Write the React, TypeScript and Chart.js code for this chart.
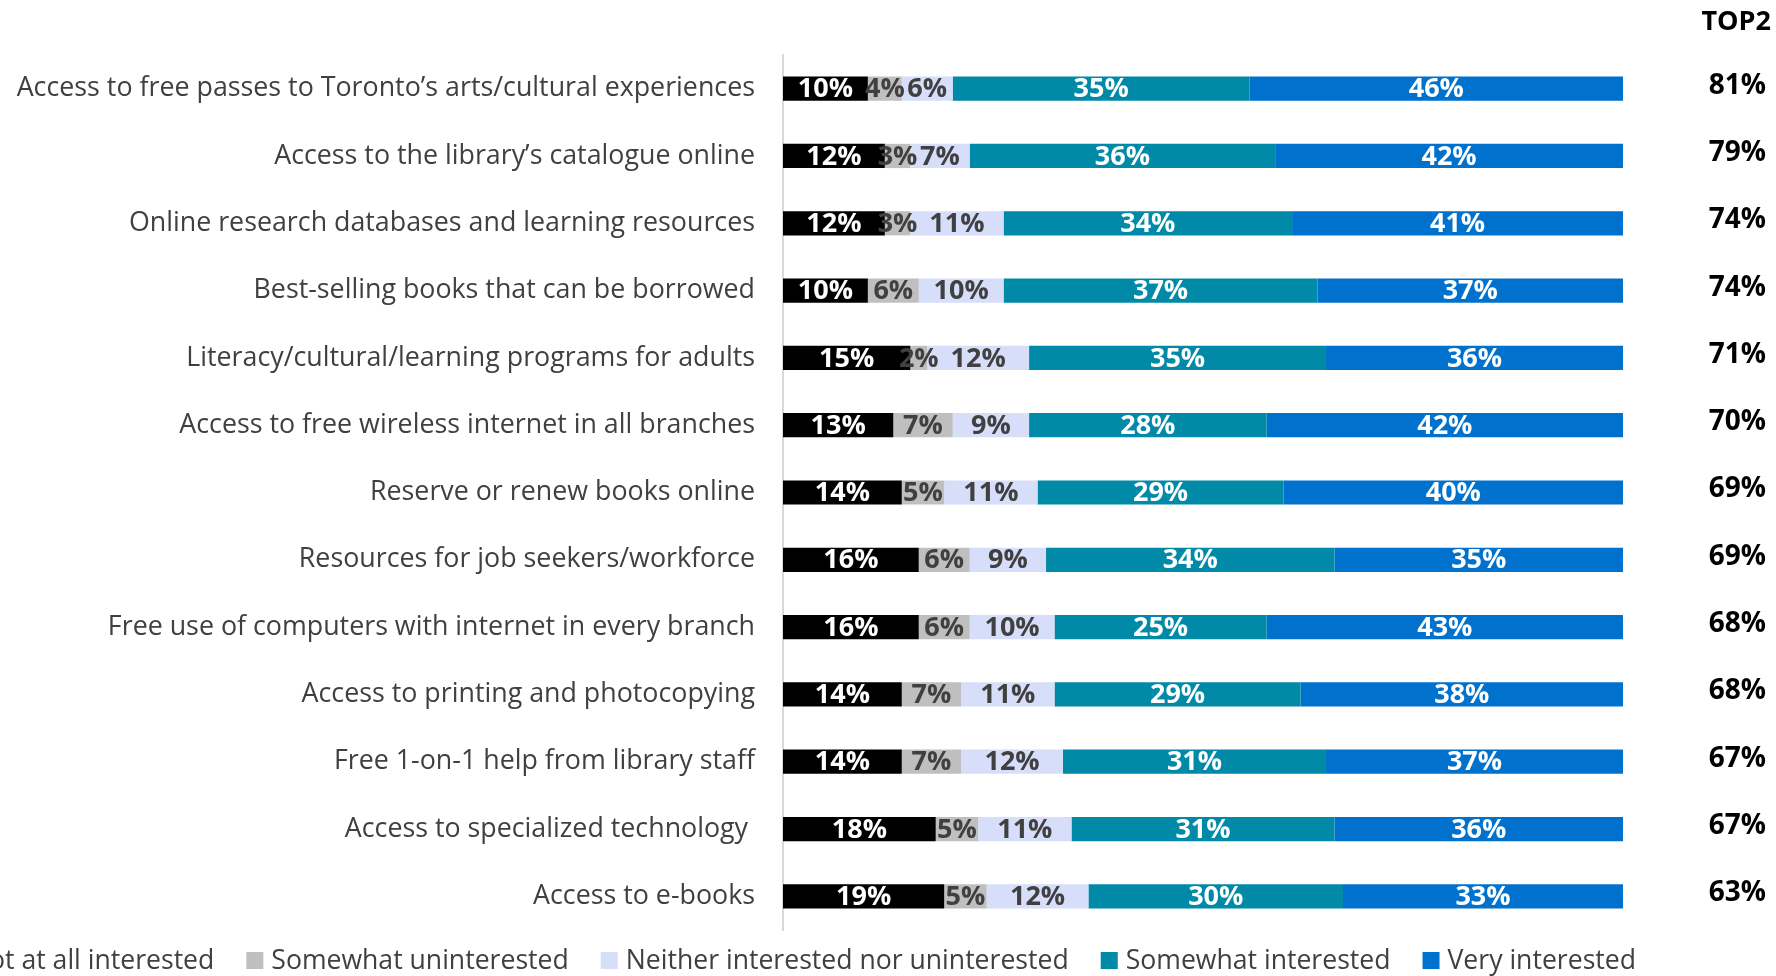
import React, { useEffect, useRef } from "react";
import { Chart, registerables } from "chart.js";

Chart.register(...registerables);

const categories = [
  "Access to free passes to Toronto’s arts/cultural experiences",
  "Access to the library’s catalogue online",
  "Online research databases and learning resources",
  "Best-selling books that can be borrowed",
  "Literacy/cultural/learning programs for adults",
  "Access to free wireless internet in all branches",
  "Reserve or renew books online",
  "Resources for job seekers/workforce",
  "Free use of computers with internet in every branch",
  "Access to printing and photocopying",
  "Free 1-on-1 help from library staff",
  "Access to specialized technology ",
  "Access to e-books",
];

const notAtAll = [10, 12, 12, 10, 15, 13, 14, 16, 16, 14, 14, 18, 19];
const somewhatUninterested = [4, 3, 3, 6, 2, 7, 5, 6, 6, 7, 7, 5, 5];
const neither = [6, 7, 11, 10, 12, 9, 11, 9, 10, 11, 12, 11, 12];
const somewhatInterested = [35, 36, 34, 37, 35, 28, 29, 34, 25, 29, 31, 31, 30];
const veryInterested = [46, 42, 41, 37, 36, 42, 40, 35, 43, 38, 37, 36, 33];
const top2 = [81, 79, 74, 74, 71, 70, 69, 69, 68, 68, 67, 67, 63];
const top2Header = "TOP2";

const seriesNames = [
  "Not at all interested",
  "Somewhat uninterested",
  "Neither interested nor uninterested",
  "Somewhat interested",
  "Very interested",
];
const seriesColors = ["#000000", "#BFBFBF", "#D6DEFA", "#008AA8", "#0072CE"];
const labelColors = ["#FFFFFF", "#404040", "#404040", "#FFFFFF", "#FFFFFF"];

const FONT = '"Open Sans", "DejaVu Sans", sans-serif';

const barLabelsPlugin = {
  id: "barLabels",
  afterDatasetsDraw(chart: any) {
    const ctx = chart.ctx;
    const right = chart.chartArea.right;
    ctx.save();
    ctx.font = `bold 27px ${FONT}`;
    ctx.textAlign = "center";
    ctx.textBaseline = "middle";
    chart.data.datasets.forEach((ds: any, di: number) => {
      const meta = chart.getDatasetMeta(di);
      meta.data.forEach((el: any, i: number) => {
        const v = ds.data[i];
        const cx = (Math.min(el.x, right) + Math.min(el.base, right)) / 2;
        ctx.fillStyle = labelColors[di];
        ctx.fillText(`${v}%`, cx, el.y + 1);
      });
    });
    ctx.restore();
  },
};

const headerPlugin = {
  id: "top2Header",
  afterDraw(chart: any) {
    const ctx = chart.ctx;
    const s = chart.scales.y2;
    ctx.save();
    ctx.font = `bold 27px ${FONT}`;
    ctx.fillStyle = "#000000";
    ctx.textAlign = "right";
    ctx.textBaseline = "middle";
    ctx.fillText(top2Header, s.right + 5, 22);
    ctx.restore();
  },
};

const customLegendPlugin = {
  id: "customLegend",
  afterDraw(chart: any) {
    const ctx = chart.ctx;
    ctx.save();
    ctx.font = `26.6px ${FONT}`;
    ctx.textBaseline = "middle";
    const box = 17;
    const boxGap = 8;
    const itemGap = 32;
    const items = chart.data.datasets.map((ds: any) => ({
      text: ds.label,
      color: ds.backgroundColor,
      w: box + boxGap + ctx.measureText(ds.label).width,
    }));
    const total =
      items.reduce((s: number, it: any) => s + it.w, 0) + itemGap * (items.length - 1);
    let x = chart.chartArea.right + 13 - total;
    const cy = 960.5;
    items.forEach((it: any) => {
      ctx.fillStyle = it.color;
      ctx.fillRect(x, cy - box / 2, box, box);
      ctx.fillStyle = "#404040";
      ctx.textAlign = "left";
      ctx.fillText(it.text, x + box + boxGap, cy + 1);
      x += it.w + itemGap;
    });
    ctx.restore();
  },
};

export default function App() {
  const canvasRef = useRef<HTMLCanvasElement | null>(null);

  useEffect(() => {
    document.body.style.margin = "0";
    const canvas = canvasRef.current;
    if (!canvas) return;
    const series = [notAtAll, somewhatUninterested, neither, somewhatInterested, veryInterested];
    const chart = new Chart(canvas, {
      type: "bar",
      data: {
        labels: categories,
        datasets: series.map((d, i) => ({
          label: seriesNames[i],
          data: d,
          backgroundColor: seriesColors[i],
          borderWidth: 0,
          barPercentage: 0.36,
          categoryPercentage: 1,
          yAxisID: "y",
        })),
      },
      options: {
        indexAxis: "y",
        animation: false,
        responsive: false,
        maintainAspectRatio: false,
        layout: { padding: { left: 0, right: 10, top: 55, bottom: 46 } },
        scales: {
          x: {
            stacked: true,
            display: false,
            min: 0,
            max: 99,
          },
          y: {
            stacked: true,
            position: "left",
            afterFit: (s: any) => {
              s.width = 783;
            },
            grid: { display: false },
            border: { display: true, color: "#D9D9D9", width: 2 },
            ticks: {
              color: "#404040",
              padding: 20,
              font: { family: FONT, size: 26.8 },
            },
          },
          y2: {
            type: "category",
            position: "right",
            labels: top2.map((v) => `${v}%`),
            offset: true,
            afterFit: (s: any) => {
              s.width = 143;
            },
            grid: { display: false },
            border: { display: false },
            ticks: {
              color: "#000000",
              padding: 0,
              crossAlign: "far",
              labelOffset: -3,
              font: { family: FONT, size: 28, weight: "bold" },
            },
          },
        },
        plugins: {
          legend: { display: false },
          tooltip: { enabled: false },
          title: { display: false },
        },
      } as any,
      plugins: [barLabelsPlugin, headerPlugin, customLegendPlugin],
    });
    return () => chart.destroy();
  }, []);

  return (
    <div style={{ width: 1776, height: 976, overflow: "hidden", background: "#fff" }}>
      <canvas ref={canvasRef} width={1776} height={976} style={{ display: "block" }} />
    </div>
  );
}
